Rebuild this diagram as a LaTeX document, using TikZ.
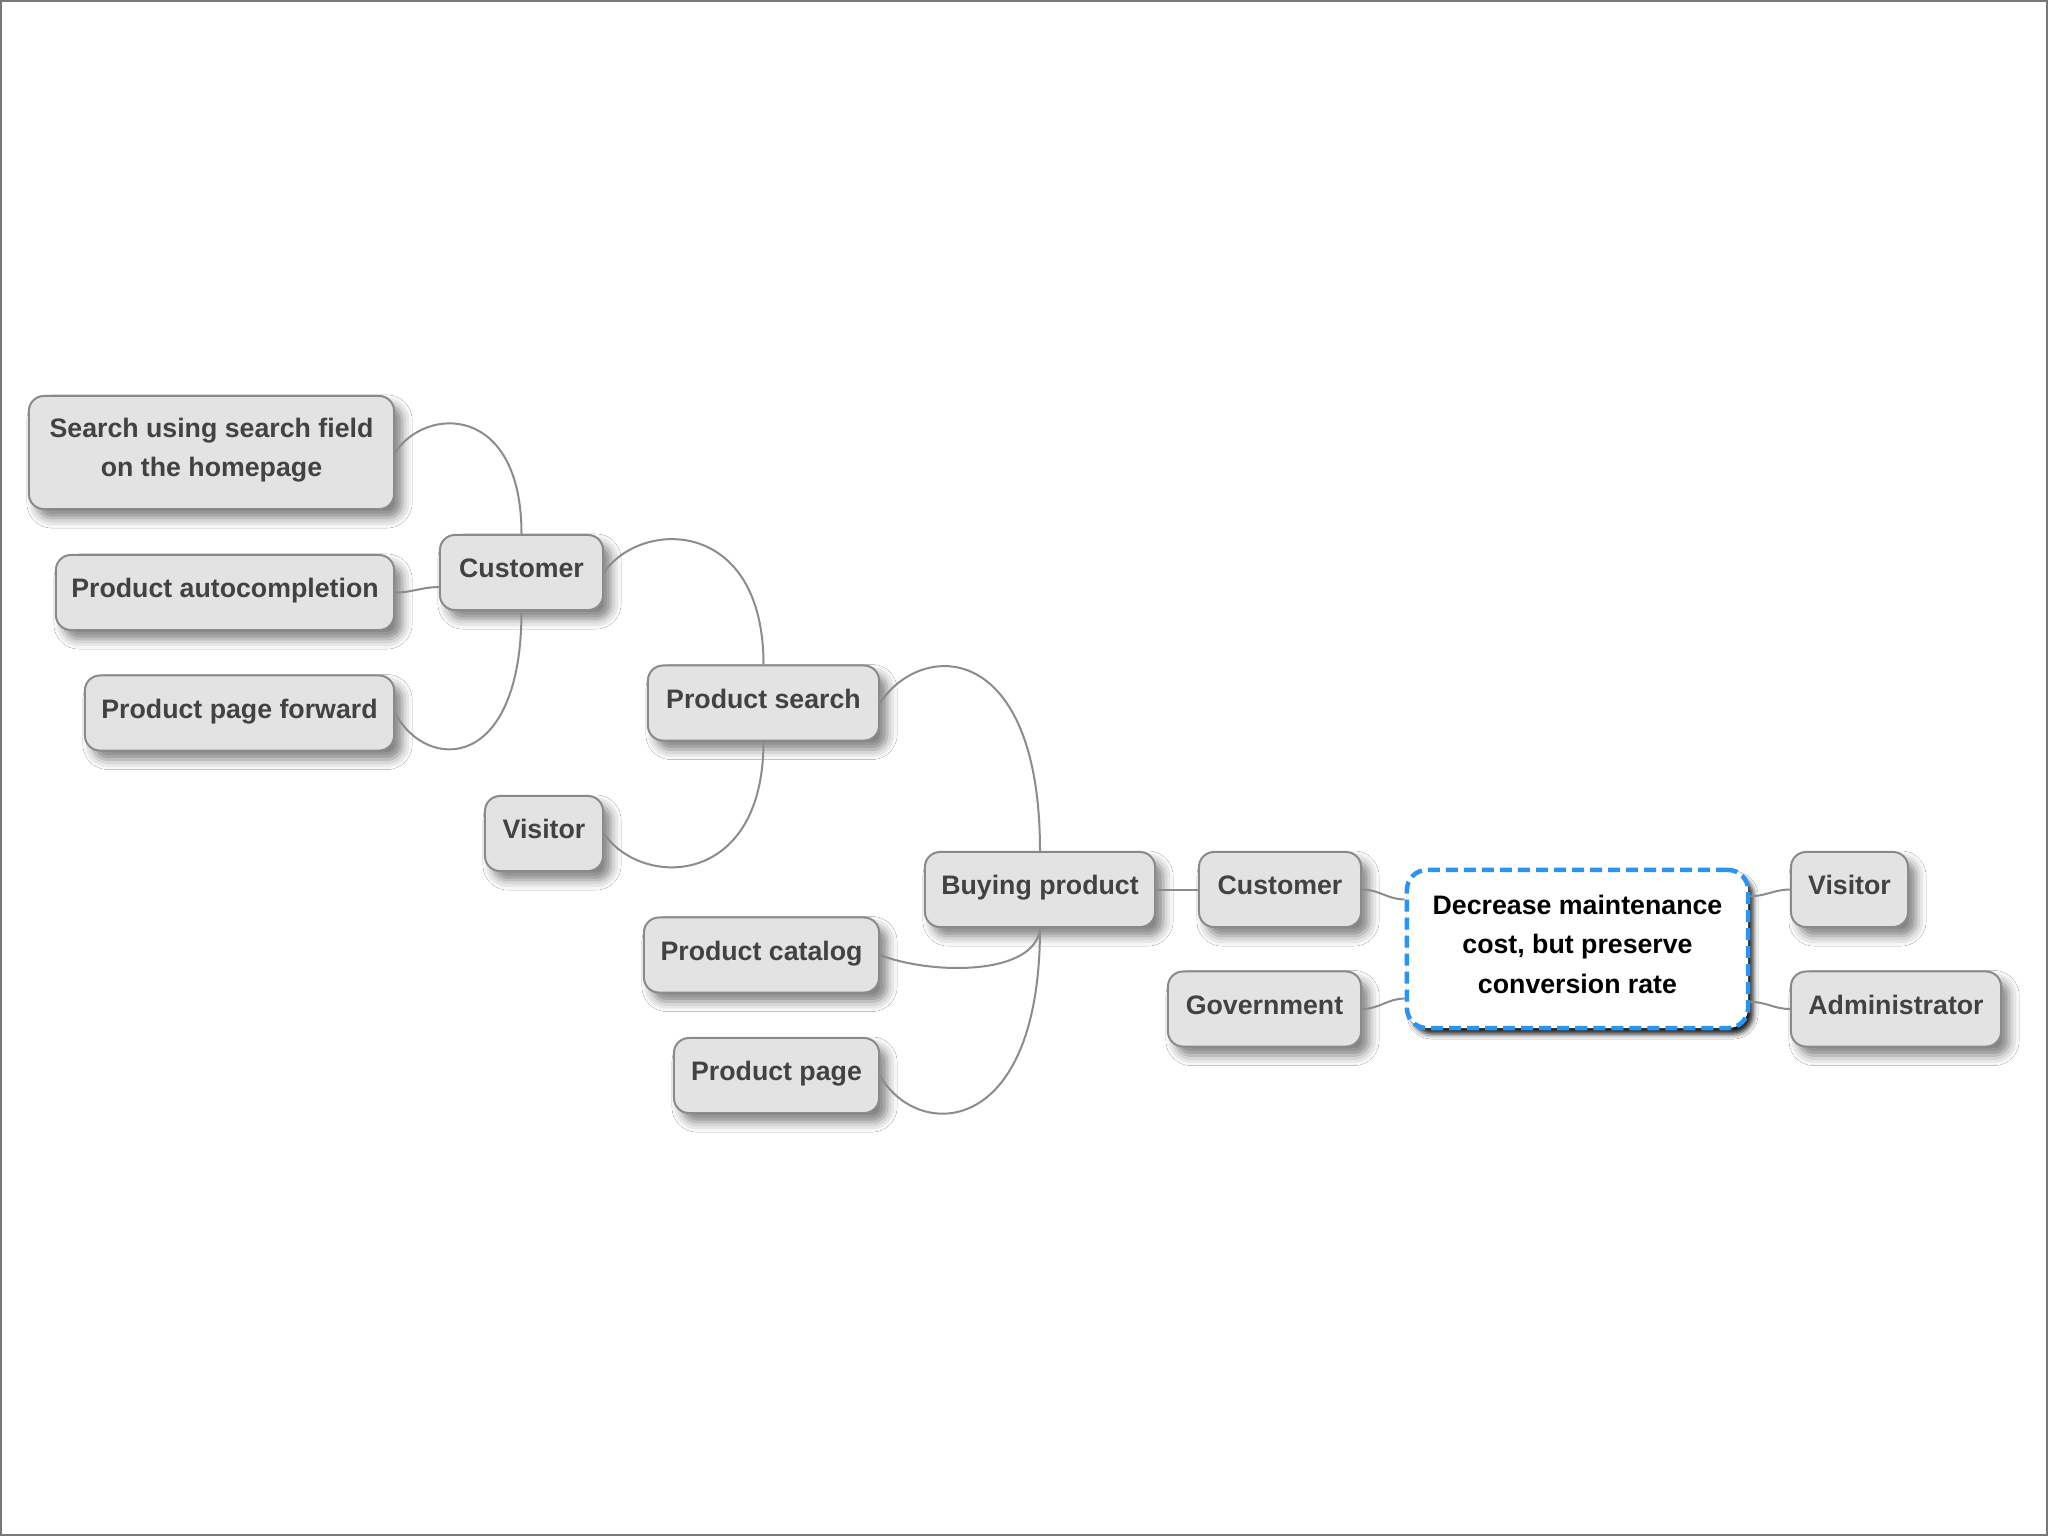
\documentclass[tikz,border=0pt]{standalone}
\usepackage{fontspec}
\setmainfont{Liberation Sans}
\usetikzlibrary{shadows.blur}
\definecolor{NodeFill}{RGB}{227,227,227}
\definecolor{NodeLine}{RGB}{138,138,138}
\definecolor{NodeText}{RGB}{66,66,66}
\definecolor{LinkGray}{RGB}{140,140,140}
\definecolor{GoalBlue}{RGB}{42,148,240}
\definecolor{Frame}{RGB}{120,120,120}

\tikzset{
  topic/.style={rectangle, rounded corners=0.15cm, draw=NodeLine, line width=0.02cm,
    fill=NodeFill, text=NodeText, align=center, inner sep=0pt, minimum height=0.75cm,
    text height=0.2cm, text depth=0.1cm,
    font=\fontsize{7.6}{11.2}\selectfont\bfseries,
    blur shadow={shadow xshift=0.08cm, shadow yshift=-0.09cm, shadow blur radius=0.1cm, shadow opacity=50}},
  goal/.style={rectangle, rounded corners=0.2cm, draw=GoalBlue, line width=0.045cm,
    dash pattern=on 0.12cm off 0.06cm, fill=white, text=black, align=center, inner sep=0pt,
    text depth=0.1cm,
    font=\fontsize{7.6}{11.2}\selectfont\bfseries,
    blur shadow={shadow xshift=0.05cm, shadow yshift=-0.06cm, shadow blur radius=0.05cm, shadow opacity=90}},
  link/.style={draw=LinkGray, line width=0.02cm},
}

\begin{document}
\begin{tikzpicture}[x=0.01cm,y=-0.01cm]
  \useasboundingbox (0,0) rectangle (2048,1536);
  \fill[white] (0,0) rectangle (2048,1536);
  \draw[Frame, line width=0.02cm] (1,1) rectangle (2047,1535);

  % left branch
  \node[topic, minimum width=3.65cm, minimum height=1.13cm, text height=0.58cm] (search) at (211.5,452.5) {Search using search field\\on the homepage};
  \node[topic, minimum width=3.38cm] (autocomp) at (225,592.5) {Product autocompletion};
  \node[topic, minimum width=3.09cm] (forward) at (239.5,713) {Product page forward};
  \node[topic, minimum width=1.63cm] (custA) at (521.5,572.5) {Customer};
  \node[topic, minimum width=1.18cm] (visA) at (544,833.5) {Visitor};
  \node[topic, minimum width=2.31cm] (psearch) at (763.5,703) {Product search};
  \node[topic, minimum width=2.35cm] (catalog) at (761.5,955) {Product catalog};
  \node[topic, minimum width=2.05cm] (ppage) at (776.5,1075.5) {Product page};
  \node[topic, minimum width=2.30cm] (buying) at (1040,889.5) {Buying product};

  % right branch
  \node[topic, minimum width=1.62cm] (custB) at (1280,889.5) {Customer};
  \node[topic, minimum width=1.93cm] (gov) at (1264.5,1009) {Government};
  \node[goal, minimum width=3.41cm, minimum height=1.58cm] (goal) at (1577.5,949) {Decrease maintenance\\cost, but preserve\\conversion rate};
  \node[topic, minimum width=1.17cm] (visB) at (1849.5,889.5) {Visitor};
  \node[topic, minimum width=2.10cm] (admin) at (1896,1009) {Administrator};

  % connectors
  \draw[link] (search.east) .. controls +(31,-47) and +(0,-130) .. (custA.north);
  \draw[link] (autocomp.east) to[out=0,in=180] (custA.190);
  \draw[link] (forward.east) .. controls +(31,59) and +(0,162) .. (custA.south);
  \draw[link] (custA.east) .. controls +(37,-54) and +(0,-147) .. (psearch.north);
  \draw[link] (visA.east) .. controls +(37,55) and +(0,147) .. (psearch.south);
  \draw[link] (psearch.east) .. controls +(41,-63) and +(0,-212) .. (buying.north);
  \draw[link] (catalog.east) .. controls +(51,20) and +(-4,48) .. (buying.south);
  \draw[link] (ppage.east) .. controls +(36,65) and +(0,213) .. (buying.south);
  \draw[link] (buying.east) -- (custB.west);
  \draw[link] (custB.east) to[out=0,in=180] (goal.164);
  \draw[link] (gov.east) to[out=0,in=180] (goal.196);
  \draw[link] (goal.17) to[out=0,in=180] (visB.west);
  \draw[link] (goal.343) to[out=0,in=180] (admin.west);
\end{tikzpicture}
\end{document}
